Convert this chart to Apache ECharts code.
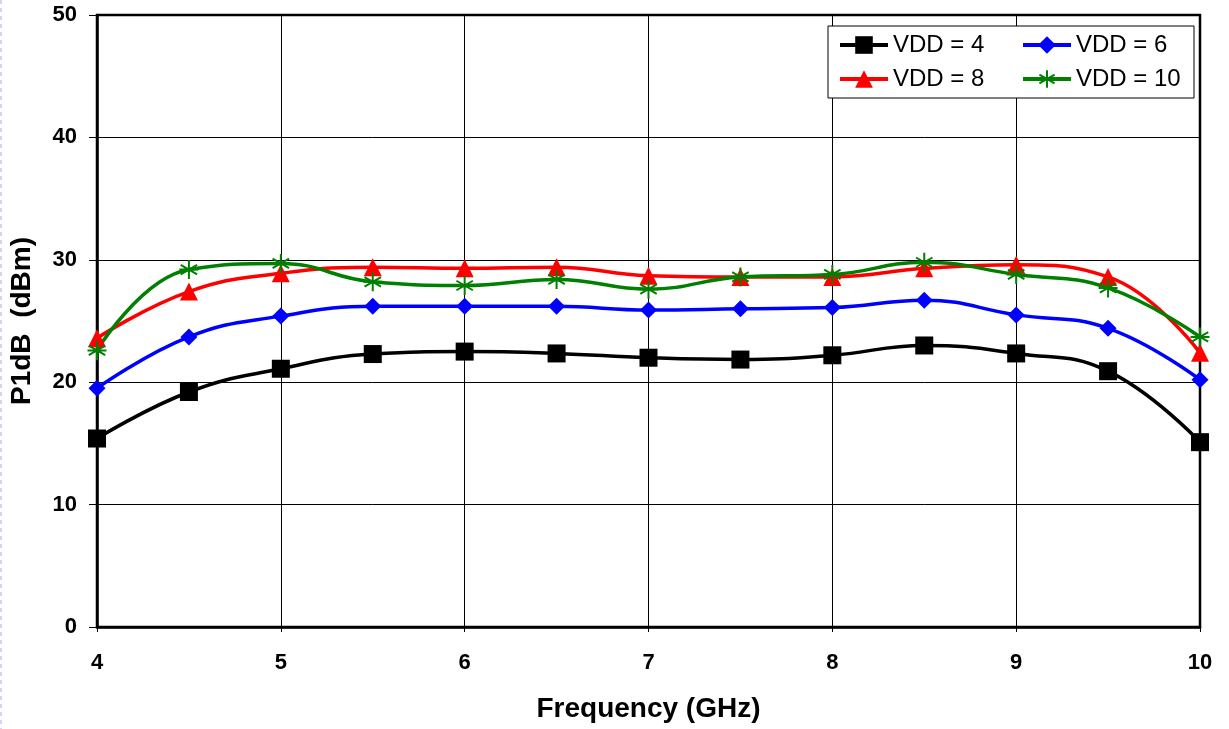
<!DOCTYPE html>
<html>
<head>
<meta charset="utf-8">
<script src="https://cdn.jsdelivr.net/npm/echarts@6/dist/echarts.min.js"></script>
<style>
html,body{margin:0;padding:0;background:#fff;}
#chart{width:1229px;height:729px;}
</style>
</head>
<body>
<div id="chart"></div>
<script>
var freq = [4, 4.5, 5, 5.5, 6, 6.5, 7, 7.5, 8, 8.5, 9, 9.5, 10];
var vdd4 = [15.4, 19.2, 21.1, 22.3, 22.5, 22.35, 22.0, 21.85, 22.2, 23.0, 22.35, 20.9, 15.1];
var vdd6 = [19.5, 23.7, 25.4, 26.2, 26.2, 26.2, 25.9, 26.0, 26.1, 26.7, 25.5, 24.4, 20.2];
var vdd8 = [23.6, 27.4, 28.9, 29.4, 29.3, 29.4, 28.7, 28.6, 28.6, 29.3, 29.6, 28.6, 22.4];
var vdd10 = [22.6, 29.2, 29.7, 28.2, 27.9, 28.4, 27.6, 28.6, 28.8, 29.8, 28.8, 27.7, 23.7];
var seriesNames = ['VDD = 4', 'VDD = 6', 'VDD = 8', 'VDD = 10'];

function pairs(ys) { return freq.map(function (x, i) { return [x, ys[i]]; }); }

var starPath = 'path://M0,-10L0,10M-8.66,-5L8.66,5M8.66,-5L-8.66,5M-10,0L10,0';

var font = 'Liberation Sans, Arial, sans-serif';
var chart = echarts.init(document.getElementById('chart'));
function mk(name, data, color, symbol, size, extra) {
  var s = {
    name: name, type: 'line', data: pairs(data), smooth: 0.45,
    symbol: symbol, symbolSize: size,
    lineStyle: { color: color, width: 3.5 },
    itemStyle: { color: color },
    emphasis: { disabled: true }
  };
  if (extra) { for (var k in extra) s[k] = extra[k]; }
  return s;
}
chart.setOption({
  animation: false,
  backgroundColor: '#fff',
  graphic: [{
    type: 'line', shape: { x1: 1, y1: 0, x2: 1, y2: 729 }, silent: true,
    style: { stroke: '#c8c8f0', lineWidth: 1.5, lineDash: [4, 4] }
  }],
  grid: { left: 97, right: 29, top: 15, bottom: 102, show: true, borderColor: '#000', borderWidth: 2.5, backgroundColor: 'transparent' },
  legend: {
    left: 828, top: 26, width: 380,
    padding: [7, 0, 7, 10],
    borderColor: '#000', borderWidth: 1, backgroundColor: '#fff',
    itemWidth: 48, itemHeight: 22, itemGap: 10,
    lineStyle: { width: 4 },
    data: seriesNames,
    textStyle: { fontFamily: font, fontSize: 24, color: '#000', width: 118, lineHeight: 22, padding: [0, 0, 0, 0] }
  },
  xAxis: {
    type: 'value', min: 4, max: 10, interval: 1,
    name: 'Frequency (GHz)', nameLocation: 'middle', nameGap: 68,
    nameTextStyle: { fontFamily: font, fontSize: 28, fontWeight: 'bold', color: '#000' },
    axisLine: { show: true, lineStyle: { color: '#000', width: 2.5 } },
    axisTick: { show: true, length: 5, lineStyle: { color: '#000', width: 1 } },
    axisLabel: { margin: 25, fontFamily: font, fontSize: 22, fontWeight: 'bold', color: '#000' },
    splitLine: { show: true, lineStyle: { color: '#000', width: 1 } }
  },
  yAxis: {
    type: 'value', min: 0, max: 50, interval: 10,
    name: 'P1dB  (dBm)', nameLocation: 'middle', nameGap: 61, nameRotate: 90,
    nameTextStyle: { fontFamily: font, fontSize: 28, fontWeight: 'bold', color: '#000' },
    axisLine: { show: true, lineStyle: { color: '#000', width: 2.5 } },
    axisTick: { show: true, length: 8, lineStyle: { color: '#000', width: 1 } },
    axisLabel: { margin: 20, fontFamily: font, fontSize: 22, fontWeight: 'bold', color: '#000' },
    splitLine: { show: true, lineStyle: { color: '#000', width: 1 } }
  },
  series: [
    mk(seriesNames[0], vdd4, '#000000', 'rect', 18),
    mk(seriesNames[1], vdd6, '#0000ff', 'diamond', 17),
    mk(seriesNames[2], vdd8, '#ff0000', 'triangle', 18),
    mk(seriesNames[3], vdd10, '#008000', starPath, 19, { itemStyle: { color: '#008000', borderColor: '#008000', borderWidth: 2 } })
  ]
});
</script>
</body>
</html>
